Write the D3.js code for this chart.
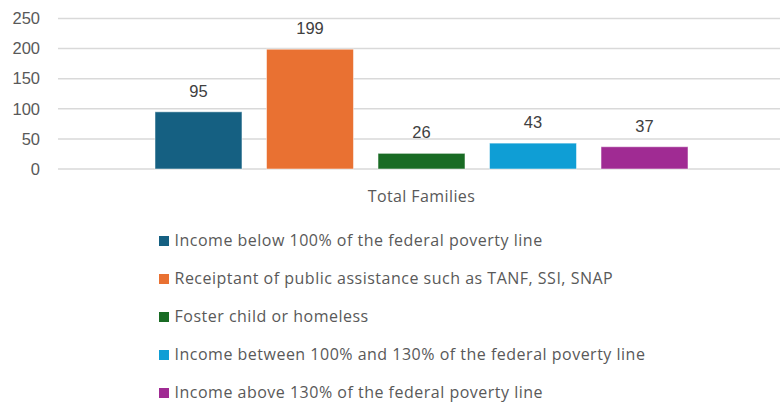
<!DOCTYPE html>
<html><head><meta charset="utf-8">
<script src="https://cdn.jsdelivr.net/npm/d3@7"></script>
<style>body{margin:0;background:#fff;}svg{display:block;}</style>
</head><body>
<svg id="c" width="780" height="404"></svg>
<script>
const categories = ["Total Families"];
const seriesNames = [
  "Income below 100% of the federal poverty line",
  "Receiptant of public assistance such as TANF, SSI, SNAP",
  "Foster child or homeless",
  "Income between 100% and 130% of the federal poverty line",
  "Income above 130% of the federal poverty line"
];
const seriesValues = [95, 199, 26, 43, 37];
const seriesColors = ["#156082", "#E97132", "#196B24", "#0F9ED5", "#A02B93"];
const yTicks = [0, 50, 100, 150, 200, 250];

const svg = d3.select("#c");
const font = "'Open Sans', sans-serif";
const numFont = "'Liberation Sans', Arial, sans-serif";
const plot = {left: 58, right: 786, top: 18.5, bottom: 169};

const y = d3.scaleLinear().domain([0, 250]).range([plot.bottom, plot.top]);
const x0 = d3.scaleBand().domain(categories).range([plot.left, plot.right]).paddingInner(0).paddingOuter(0);
const x1 = d3.scaleBand().domain(seriesNames).range([x0(categories[0]) + 97, x0(categories[0]) + x0.bandwidth() - 98]).paddingInner(0.22).paddingOuter(0);

// gridlines
svg.append("g").selectAll("line").data(yTicks).join("line")
  .attr("x1", plot.left).attr("x2", plot.right)
  .attr("y1", d => y(d)).attr("y2", d => y(d))
  .attr("stroke", "#d9d9d9").attr("stroke-width", 1.5);

// y axis labels
const yAxis = d3.axisLeft(y).tickValues(yTicks).tickSize(0).tickPadding(0);
const ya = svg.append("g").attr("transform", "translate(40,0)").call(yAxis);
ya.select(".domain").remove();
ya.selectAll("text").attr("font-family", numFont).attr("font-size", 16.5).attr("fill", "#595959");

// bars
const g = svg.append("g");
g.selectAll("rect").data(seriesValues).join("rect")
  .attr("x", (d, i) => x1(seriesNames[i]))
  .attr("width", x1.bandwidth())
  .attr("y", d => y(d))
  .attr("height", d => y(0) - y(d))
  .attr("fill", (d, i) => seriesColors[i])
  .attr("stroke", "#ffffff").attr("stroke-opacity", 0.5).attr("stroke-width", 1);

g.selectAll("text").data(seriesValues).join("text")
  .attr("x", (d, i) => x1(seriesNames[i]) + x1.bandwidth() / 2)
  .attr("y", d => y(d) - 15)
  .attr("text-anchor", "middle")
  .attr("font-family", numFont).attr("font-size", 16.5).attr("fill", "#404040")
  .text(d => d);

// category label
svg.append("text").attr("x", x0(categories[0]) + x0.bandwidth() / 2 - 0.5).attr("y", 202)
  .attr("text-anchor", "middle").attr("font-family", font).attr("font-size", 16)
  .attr("letter-spacing", 0.4).attr("fill", "#595959")
  .text(categories[0]);

// legend
const lg = svg.append("g").selectAll("g").data(seriesNames).join("g")
  .attr("transform", (d, i) => `translate(159,${236 + i * 38})`);
lg.append("rect").attr("width", 10).attr("height", 10).attr("fill", (d, i) => seriesColors[i]);
lg.append("text").attr("x", 15.5).attr("y", 10.3).attr("font-family", font).attr("font-size", 16)
  .attr("letter-spacing", 0.5).attr("fill", "#595959").text(d => d);
</script>
</body></html>
